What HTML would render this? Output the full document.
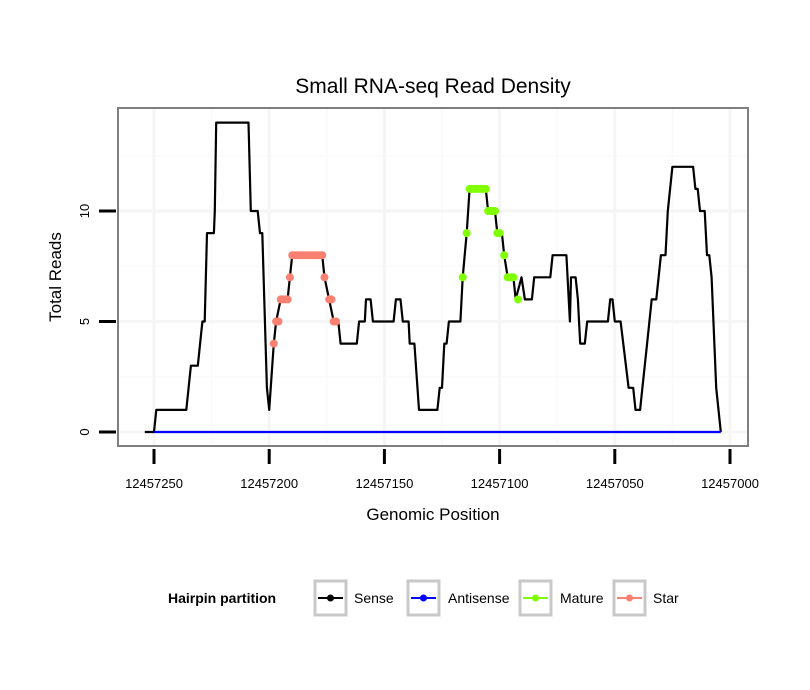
<!DOCTYPE html>
<html><head><meta charset="utf-8"><style>
body{margin:0;background:#fff;}
svg{display:block;font-family:"Liberation Sans",sans-serif;}
</style></head><body>
<svg id="chart" width="810" height="690">
<rect width="810" height="690" fill="#fff"/>
<text x="433" y="93" font-size="21" text-anchor="middle">Small RNA-seq Read Density</text>
<g id="grid"></g>
<g id="marks"></g>
<rect x="118" y="108" width="630" height="338" fill="none" stroke="#7f7f7f" stroke-width="2"/>
<g id="axes"></g>
<text x="433" y="520" font-size="17" text-anchor="middle">Genomic Position</text>
<text transform="translate(61,277) rotate(-90)" font-size="17" text-anchor="middle">Total Reads</text>
<g font-size="14">
<text x="168" y="603" font-weight="bold">Hairpin partition</text>
<g>
<rect x="315" y="581" width="31" height="34" fill="#fff" stroke="#c8c8c8" stroke-width="3"/>
<line x1="318" y1="598" x2="343" y2="598" stroke="#000" stroke-width="2"/><circle cx="330.5" cy="598" r="3.5" fill="#000"/>
<text x="354" y="603">Sense</text></g>
<g>
<rect x="408" y="581" width="31" height="34" fill="#fff" stroke="#c8c8c8" stroke-width="3"/>
<line x1="411" y1="598" x2="436" y2="598" stroke="#0000ff" stroke-width="2"/><circle cx="423.5" cy="598" r="3.5" fill="#0000ff"/>
<text x="448" y="603">Antisense</text></g>
<g>
<rect x="520" y="581" width="31" height="34" fill="#fff" stroke="#c8c8c8" stroke-width="3"/>
<line x1="523" y1="598" x2="548" y2="598" stroke="#7fff00" stroke-width="2"/><circle cx="535.5" cy="598" r="3.5" fill="#7fff00"/>
<text x="560" y="603">Mature</text></g>
<g>
<rect x="614" y="581" width="31" height="34" fill="#fff" stroke="#c8c8c8" stroke-width="3"/>
<line x1="617" y1="598" x2="642" y2="598" stroke="#fa8072" stroke-width="2"/><circle cx="629.5" cy="598" r="3.5" fill="#fa8072"/>
<text x="653" y="603">Star</text></g>
</g>
</svg>
<script>
const senseX=[12457254,12457250,12457249,12457236,12457234,12457231,12457230,12457229,12457228,12457227,12457224,12457223.6,12457223,12457209,12457208,12457205,12457204,12457203,12457201,12457200,12457198,12457197,12457195,12457192,12457191,12457190,12457177,12457176,12457174,12457172,12457170,12457169,12457162,12457161,12457158.5,12457158,12457156,12457155,12457146,12457145,12457143,12457142,12457139.5,12457139,12457137,12457135,12457127,12457126,12457125,12457124,12457123,12457122,12457117,12457116,12457114.3,12457113,12457106,12457105,12457102,12457101,12457099,12457098,12457096.5,12457094,12457093,12457090.5,12457089,12457086,12457085,12457078,12457077,12457071,12457069.5,12457069,12457067,12457066,12457065,12457063,12457062,12457053,12457052,12457051,12457050,12457047.5,12457044,12457042,12457041,12457039,12457038,12457036,12457034,12457032,12457030,12457028,12457027,12457025,12457016,12457015,12457014,12457013,12457011,12457010,12457009,12457008,12457006,12457004];
const senseY=[0,0,1,1,3,3,4,5,5,9,9,10,14,14,10,10,9,9,2,1,4,5,6,6,7,8,8,7,6,5,5,4,4,5,5,6,6,5,5,6,6,5,5,4,4,1,1,2,2,4,4,5,5,7,9,11,11,10,10,9,9,8,7,7,6,7,6,6,7,7,8,8,5,7,7,6,4,4,5,5,6,6,5,5,2,2,1,1,2,4,6,6,8,8,10,12,12,11,11,10,10,8,8,7,2,0];
const antisenseX=[12457250,12457004];
const antisenseY=[0,0];
const starX=[12457198,12457197,12457196,12457195,12457194,12457193,12457192,12457191,12457190,12457189,12457188,12457187,12457186,12457185,12457184,12457183,12457182,12457181,12457180,12457179,12457178,12457177,12457176,12457174,12457173,12457172,12457171];
const starY=[4,5,5,6,6,6,6,7,8,8,8,8,8,8,8,8,8,8,8,8,8,8,7,6,6,5,5];
const matureX=[12457116,12457114.3,12457113,12457112,12457111,12457110,12457109,12457108,12457107,12457106,12457105,12457104,12457103,12457102,12457101,12457100,12457098,12457096.5,12457095,12457094,12457092];
const matureY=[7,9,11,11,11,11,11,11,11,11,10,10,10,10,9,9,8,7,7,7,6];
const xTicks=[12457250,12457200,12457150,12457100,12457050,12457000];
const yTicks=[0,5,10];
const xMinor=[12457225,12457175,12457125,12457075,12457025];
const yMinor=[2.5,7.5,12.5];

const NS="http://www.w3.org/2000/svg";
const sx=p=>154+(12457250-p)*2.304;
const sy=v=>432-v*22.1;
function mk(tag,attrs,parent){const e=document.createElementNS(NS,tag);for(const k in attrs)e.setAttribute(k,attrs[k]);document.getElementById(parent).appendChild(e);return e;}

xMinor.forEach(p=>{const l=mk('line',{x1:sx(p),x2:sx(p),y1:109,y2:445,stroke:'#fafafa','stroke-width':1.5},'grid');

});
yMinor.forEach(v=>{const l=mk('line',{x1:119,x2:747,y1:sy(v),y2:sy(v),stroke:'#fafafa','stroke-width':1.5},'grid');

});
xTicks.forEach(p=>{const l=mk('line',{x1:sx(p),x2:sx(p),y1:109,y2:445,stroke:'#f5f5f5','stroke-width':3},'grid');


const t=mk('line',{x1:sx(p),x2:sx(p),y1:449,y2:464,stroke:'#000','stroke-width':3},'axes');


const tx=mk('text',{x:sx(p),y:488,'font-size':13,'text-anchor':'middle'},'axes');tx.textContent=p;

});
yTicks.forEach(v=>{const l=mk('line',{x1:119,x2:747,y1:sy(v),y2:sy(v),stroke:'#f5f5f5','stroke-width':3},'grid');


const t=mk('line',{x1:99,x2:116,y1:sy(v),y2:sy(v),stroke:'#000','stroke-width':3},'axes');


const tx=mk('text',{transform:`translate(89,${sy(v)}) rotate(-90)`,'font-size':13,'text-anchor':'middle'},'axes');tx.textContent=v;

});

function line(X,Y,color,name){const d=X.map((p,i)=>(i?'L':'M')+sx(p).toFixed(1)+','+sy(Y[i]).toFixed(1)).join('');
const e=mk('path',{d:d,fill:'none',stroke:color,'stroke-width':2.2,'stroke-linejoin':'round'},'marks');

}
function pts(X,Y,color,name){X.forEach((p,i)=>{const c=mk('circle',{cx:sx(p),cy:sy(Y[i]),r:4,fill:color},'marks');

});}
line(senseX,senseY,'#000','sense-line');
line(antisenseX,antisenseY,'#0000ff','antisense-line');
pts(starX,starY,'#fa8072','star-point');
pts(matureX,matureY,'#7fff00','mature-point');
</script>
</body></html>
